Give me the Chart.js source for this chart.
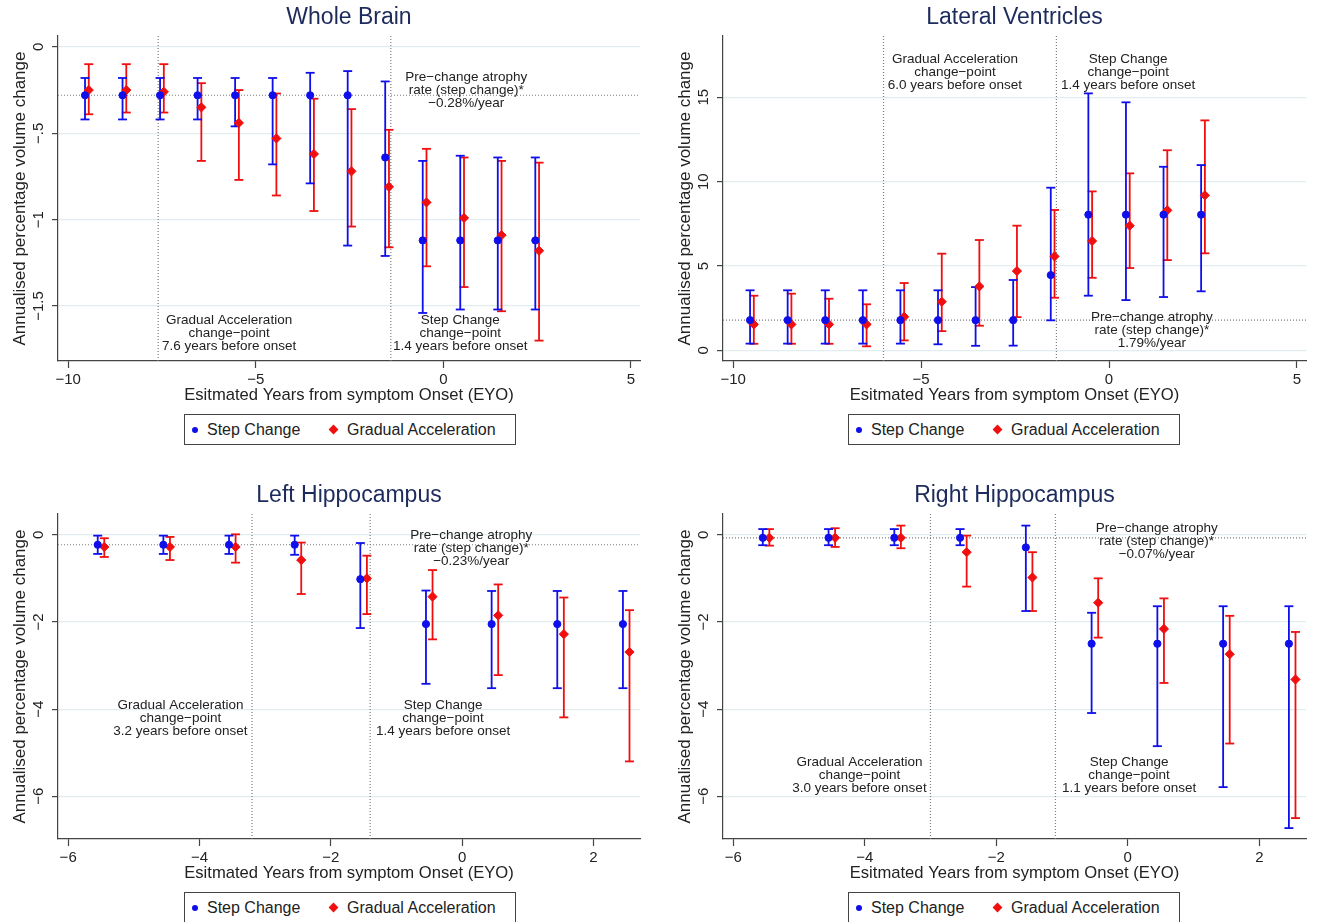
<!DOCTYPE html>
<html>
<head>
<meta charset="utf-8">
<script src="https://cdn.jsdelivr.net/npm/chart.js@4.4.1/dist/chart.umd.min.js"></script>
<style>
  body { margin: 0; background: #fff; width: 1318px; height: 922px; overflow: hidden; position: relative;
         font-family: "Liberation Sans", Arial, sans-serif; }
  canvas { position: absolute; }
  .legend { position: absolute; width: 332px; height: 31px; box-sizing: border-box; border: 1px solid #444;
            font-size: 16px; color: #222; background: #fff; }
  .legend span { position: absolute; top: 6px; }
  .dot { width: 6px; height: 6px; border-radius: 50%; background: rgb(15,15,235); top: 12px !important; left: 7px; }
  .dia { width: 7px; height: 7px; background: rgb(240,15,15); transform: rotate(45deg); top: 11px !important; left: 145px; }
</style>
</head>
<body>
<canvas id="c1"></canvas>
<canvas id="c2"></canvas>
<canvas id="c3"></canvas>
<canvas id="c4"></canvas>
<div class="legend" style="left:184px;top:414px"><span class="dot"></span><span style="left:22px">Step Change</span><span class="dia"></span><span style="left:162px">Gradual Acceleration</span></div>
<div class="legend" style="left:848px;top:414px"><span class="dot"></span><span style="left:22px">Step Change</span><span class="dia"></span><span style="left:162px">Gradual Acceleration</span></div>
<div class="legend" style="left:184px;top:892px"><span class="dot"></span><span style="left:22px">Step Change</span><span class="dia"></span><span style="left:162px">Gradual Acceleration</span></div>
<div class="legend" style="left:848px;top:892px"><span class="dot"></span><span style="left:22px">Step Change</span><span class="dia"></span><span style="left:162px">Gradual Acceleration</span></div>
<script>
// Whole Brain
const wbYears = [-9.5, -8.5, -7.5, -6.5, -5.5, -4.5, -3.5, -2.5, -1.5, -0.5, 0.5, 1.5, 2.5];
const wbStep = [-0.28, -0.28, -0.28, -0.28, -0.28, -0.28, -0.28, -0.28, -0.64, -1.12, -1.12, -1.12, -1.12];
const wbStepLo = [-0.42, -0.42, -0.42, -0.42, -0.46, -0.68, -0.79, -1.15, -1.21, -1.54, -1.52, -1.52, -1.52];
const wbStepHi = [-0.18, -0.18, -0.18, -0.18, -0.18, -0.18, -0.15, -0.14, -0.20, -0.66, -0.63, -0.64, -0.64];
const wbGrad = [-0.25, -0.25, -0.26, -0.35, -0.44, -0.53, -0.62, -0.72, -0.81, -0.90, -0.99, -1.09, -1.18];
const wbGradLo = [-0.39, -0.38, -0.38, -0.66, -0.77, -0.86, -0.95, -1.04, -1.16, -1.27, -1.39, -1.53, -1.70];
const wbGradHi = [-0.10, -0.10, -0.10, -0.21, -0.25, -0.27, -0.30, -0.36, -0.48, -0.59, -0.64, -0.66, -0.67];
const wbChange = [-7.6, -1.4];
const wbRate = -0.28;

// Lateral Ventricles
const lvYears = [-9.5, -8.5, -7.5, -6.5, -5.5, -4.5, -3.5, -2.5, -1.5, -0.5, 0.5, 1.5, 2.5];
const lvStep = [1.79, 1.79, 1.79, 1.79, 1.79, 1.79, 1.79, 1.79, 4.46, 8.04, 8.04, 8.04, 8.04];
const lvStepLo = [0.40, 0.40, 0.40, 0.40, 0.40, 0.36, 0.27, 0.28, 1.78, 3.24, 2.98, 3.16, 3.50];
const lvStepHi = [3.56, 3.56, 3.56, 3.56, 3.56, 3.56, 3.75, 4.17, 9.64, 15.23, 14.70, 10.88, 10.98];
const lvGrad = [1.54, 1.54, 1.54, 1.54, 1.99, 2.88, 3.79, 4.70, 5.57, 6.48, 7.39, 8.30, 9.19];
const lvGradLo = [0.39, 0.39, 0.39, 0.24, 0.59, 1.14, 1.46, 1.97, 3.12, 4.30, 4.88, 5.35, 5.75];
const lvGradHi = [3.24, 3.36, 3.06, 2.73, 3.99, 5.73, 6.54, 7.39, 8.32, 9.42, 10.49, 11.86, 13.63];
const lvChange = [-6.0, -1.4];
const lvRate = 1.79;

// Left Hippocampus
const lhYears = [-5.5, -4.5, -3.5, -2.5, -1.5, -0.5, 0.5, 1.5, 2.5];
const lhStep = [-0.23, -0.23, -0.23, -0.23, -1.02, -2.05, -2.05, -2.05, -2.05];
const lhStepLo = [-0.44, -0.44, -0.44, -0.46, -2.14, -3.42, -3.52, -3.52, -3.52];
const lhStepHi = [-0.02, -0.02, -0.02, -0.02, -0.19, -1.28, -1.29, -1.29, -1.29];
const lhGrad = [-0.28, -0.28, -0.28, -0.58, -1.00, -1.42, -1.85, -2.28, -2.69];
const lhGradLo = [-0.51, -0.58, -0.64, -1.36, -1.82, -2.40, -3.22, -4.19, -5.20];
const lhGradHi = [-0.08, -0.05, 0.01, -0.18, -0.48, -0.81, -1.14, -1.44, -1.73];
const lhChange = [-3.2, -1.4];
const lhRate = -0.23;

// Right Hippocampus
const rhYears = [-5.5, -4.5, -3.5, -2.5, -1.5, -0.5, 0.5, 1.5, 2.5];
const rhStep = [-0.07, -0.07, -0.07, -0.07, -0.29, -2.50, -2.50, -2.50, -2.50];
const rhStepLo = [-0.24, -0.24, -0.24, -0.24, -1.75, -4.09, -4.85, -5.79, -6.73];
const rhStepHi = [0.13, 0.13, 0.13, 0.13, 0.21, -1.79, -1.64, -1.64, -1.64];
const rhGrad = [-0.07, -0.07, -0.07, -0.40, -0.98, -1.56, -2.16, -2.74, -3.32];
const rhGradLo = [-0.25, -0.28, -0.31, -1.19, -1.75, -2.36, -3.40, -4.79, -6.50];
const rhGradHi = [0.13, 0.15, 0.21, -0.02, -0.40, -1.00, -1.46, -1.86, -2.23];
const rhChange = [-3.0, -1.1];
const rhRate = -0.07;

const BLUE = 'rgb(15,15,235)';
const RED = 'rgb(240,15,15)';
const AXIS = '#444';
const GRID = 'rgb(226,237,240)';
const INK = '#222';
const FONT = '"Liberation Sans", Arial, sans-serif';
const DODGE = 0.05;

function gaText(yrs) { return ['Gradual Acceleration', 'change\u2212point', yrs + ' years before onset']; }
function scText(yrs) { return ['Step Change', 'change\u2212point', yrs + ' years before onset']; }
function preText(r) { return ['Pre\u2212change atrophy', 'rate (step change)*', r + '%/year']; }

const panels = [
  { id: 'c1', left: 0, top: 0, title: 'Whole Brain', years: wbYears,
    step: wbStep, stepLo: wbStepLo, stepHi: wbStepHi, grad: wbGrad, gradLo: wbGradLo, gradHi: wbGradHi,
    change: wbChange, rate: wbRate, xMin: -10.27, xMax: 5.24, xStep: 5, yMin: -1.818, yMax: 0.063, yStep: 0.5,
    notes: [{ x: 0.61, y: -0.254, lines: preText('\u22120.28') },
            { x: -5.71, y: -1.658, lines: gaText('7.6') },
            { x: 0.45, y: -1.658, lines: scText('1.4') }] },
  { id: 'c2', left: 665, top: 0, title: 'Lateral Ventricles', years: lvYears,
    step: lvStep, stepLo: lvStepLo, stepHi: lvStepHi, grad: lvGrad, gradLo: lvGradLo, gradHi: lvGradHi,
    change: lvChange, rate: lvRate, xMin: -10.27, xMax: 5.24, xStep: 5, yMin: -0.63, yMax: 18.63, yStep: 5,
    notes: [{ x: -4.10, y: 16.47, lines: gaText('6.0') },
            { x: 0.51, y: 16.47, lines: scText('1.4') },
            { x: 1.14, y: 1.22, lines: preText('1.79') }] },
  { id: 'c3', left: 0, top: 478, title: 'Left Hippocampus', years: lhYears,
    step: lhStep, stepLo: lhStepLo, stepHi: lhStepHi, grad: lhGrad, gradLo: lhGradLo, gradHi: lhGradHi,
    change: lhChange, rate: lhRate, xMin: -6.155, xMax: 2.71, xStep: 2, yMin: -6.98, yMax: 0.476, yStep: 2,
    notes: [{ x: -4.29, y: -4.20, lines: gaText('3.2') },
            { x: -0.29, y: -4.20, lines: scText('1.4') },
            { x: 0.14, y: -0.31, lines: preText('\u22120.23') }] },
  { id: 'c4', left: 665, top: 478, title: 'Right Hippocampus', years: rhYears,
    step: rhStep, stepLo: rhStepLo, stepHi: rhStepHi, grad: rhGrad, gradLo: rhGradLo, gradHi: rhGradHi,
    change: rhChange, rate: rhRate, xMin: -6.155, xMax: 2.71, xStep: 2, yMin: -6.98, yMax: 0.476, yStep: 2,
    notes: [{ x: -4.08, y: -5.51, lines: gaText('3.0') },
            { x: 0.02, y: -5.51, lines: scText('1.1') },
            { x: 0.44, y: -0.145, lines: preText('\u22120.07') }] }
];

function minus(s) { return s.replace('-', '\u2212'); }
function fmtY(v) {
  if (v === 0) return '0';
  let s = String(Math.abs(v));
  if (s.startsWith('0.')) s = s.slice(1);
  return (v < 0 ? '\u2212' : '') + s;
}

function whiskers(years, lo, hi, shift) {
  const pts = [];
  years.forEach((yr, i) => {
    pts.push({ x: yr + shift, y: lo[i] }, { x: yr + shift, y: hi[i] }, { x: yr + shift, y: null });
  });
  return pts;
}

// text drawn the way Stata places it: title, rotated y labels, notes
const stataText = {
  id: 'stataText',
  afterDraw(chart, args, opts) {
    const { ctx, chartArea: a, scales: { x, y } } = chart;
    ctx.save();
    ctx.textAlign = 'center';
    ctx.textBaseline = 'middle';
    ctx.fillStyle = 'rgb(28,42,92)';
    ctx.font = '23px ' + FONT;
    ctx.fillText(opts.title, (a.left + a.right) / 2, 18);
    ctx.fillStyle = INK;
    ctx.font = '15px ' + FONT;
    y.ticks.forEach(t => {
      ctx.save();
      ctx.translate(a.left - 19, y.getPixelForValue(t.value));
      ctx.rotate(-Math.PI / 2);
      ctx.fillText(fmtY(t.value), 0, 0);
      ctx.restore();
    });
    ctx.font = '13.5px ' + FONT;
    opts.notes.forEach(n => {
      const px = x.getPixelForValue(n.x);
      const py = y.getPixelForValue(n.y);
      n.lines.forEach((s, i) => ctx.fillText(s, px, py + (i - 1) * 13));
    });
    ctx.restore();
  }
};

panels.forEach(p => {
  const cv = document.getElementById(p.id);
  cv.style.left = p.left + 'px';
  cv.style.top = p.top + 'px';
  cv.width = 1318 - 665;
  cv.height = 411;
  if (p.left === 0) cv.width = 660;

  const refLine = { type: 'line', borderColor: 'rgb(125,125,125)', borderWidth: 1.2, borderDash: [1, 2],
                    pointRadius: 0, order: 3 };
  const datasets = [
    { type: 'scatter', label: 'Step Change', data: p.years.map((yr, i) => ({ x: yr - DODGE, y: p.step[i] })),
      pointStyle: 'circle', pointRadius: 3.6, backgroundColor: BLUE, borderColor: BLUE, order: 0 },
    { type: 'scatter', label: 'Gradual Acceleration', data: p.years.map((yr, i) => ({ x: yr + DODGE, y: p.grad[i] })),
      pointStyle: 'rectRot', pointRadius: 4.6, backgroundColor: RED, borderColor: RED, order: 0 },
    { type: 'line', data: whiskers(p.years, p.stepLo, p.stepHi, -DODGE), borderColor: BLUE, borderWidth: 1.8,
      spanGaps: false, pointStyle: 'line', pointRadius: 4.5, pointBorderWidth: 1.8, pointBorderColor: BLUE, order: 1 },
    { type: 'line', data: whiskers(p.years, p.gradLo, p.gradHi, DODGE), borderColor: RED, borderWidth: 1.8,
      spanGaps: false, pointStyle: 'line', pointRadius: 4.5, pointBorderWidth: 1.8, pointBorderColor: RED, order: 1 },
    Object.assign({ data: [{ x: p.xMin, y: p.rate }, { x: p.xMax, y: p.rate }] }, refLine),
    Object.assign({ data: [{ x: p.change[0], y: p.yMin }, { x: p.change[0], y: p.yMax }] }, refLine),
    Object.assign({ data: [{ x: p.change[1], y: p.yMin }, { x: p.change[1], y: p.yMax }] }, refLine)
  ];

  new Chart(cv, {
    type: 'scatter',
    data: { datasets },
    options: {
      responsive: false,
      animation: false,
      layout: { padding: { left: 0, top: 36, right: cv.width - (p.left === 0 ? 640 : 641), bottom: 0 } },
      plugins: {
        legend: { display: false },
        tooltip: { enabled: false },
        stataText: { title: p.title, notes: p.notes }
      },
      scales: {
        x: {
          type: 'linear', min: p.xMin, max: p.xMax,
          ticks: { stepSize: p.xStep, includeBounds: false, color: INK, font: { family: FONT, size: 15 }, padding: 3,
                   callback: v => minus(String(v)) },
          grid: { drawOnChartArea: false, tickLength: 7, tickColor: AXIS, tickWidth: 1.2 },
          border: { color: AXIS, width: 1.2 },
          title: { display: true, text: 'Esitmated Years from symptom Onset (EYO)', color: INK,
                   font: { family: FONT, size: 16.6 }, padding: { top: 0, bottom: 6 } },
          afterFit: s => { s.height = 50; }
        },
        y: {
          type: 'linear', min: p.yMin, max: p.yMax,
          ticks: { stepSize: p.yStep, includeBounds: false, display: false },
          grid: { color: GRID, lineWidth: 1.2, tickLength: 6, tickColor: AXIS, tickWidth: 1.2 },
          border: { color: AXIS, width: 1.2 },
          title: { display: true, text: 'Annualised percentage volume change', color: INK,
                   font: { family: FONT, size: 17 }, padding: { top: 10, bottom: 0 } },
          afterFit: s => { s.width = 58; }
        }
      }
    },
    plugins: [stataText]
  });
});
</script>
</body>
</html>
